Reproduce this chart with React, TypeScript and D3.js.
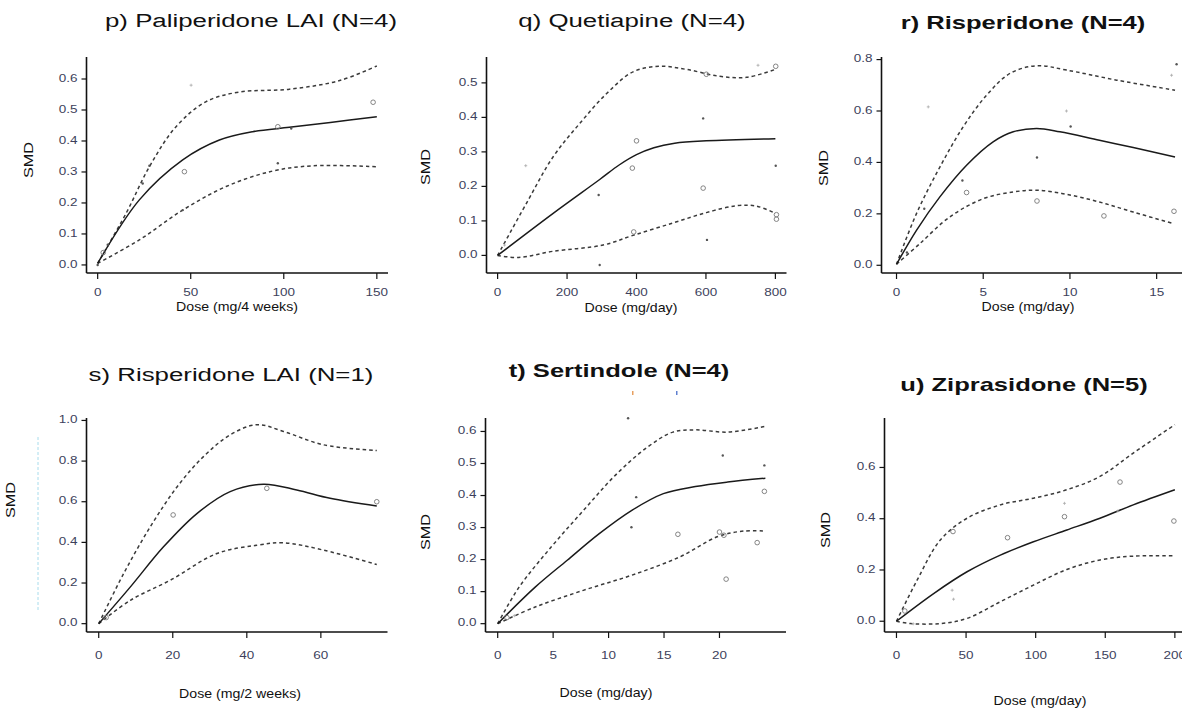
import React from 'react';
import * as d3 from 'd3';

type Pt = [number, number];
type Sc = [number, number, string];

// ---------- p) Paliperidone LAI ----------
const pXTicks = [0, 50, 100, 150];
const pYTicks = [0, 0.1, 0.2, 0.3, 0.4, 0.5, 0.6];
const pMid: Pt[] = [[0, 0.005], [22.4, 0.21], [45.7, 0.339], [65.4, 0.403], [83.3, 0.43], [103, 0.444], [125, 0.46], [150, 0.478]];
const pUp: Pt[] = [[0, 0.005], [15.3, 0.167], [27.8, 0.317], [42.1, 0.446], [58.3, 0.527], [76.2, 0.558], [103, 0.567], [130, 0.595], [150, 0.642]];
const pLo: Pt[] = [[0, 0.005], [22.4, 0.081], [45.7, 0.177], [69, 0.253], [94, 0.303], [115.6, 0.32], [150, 0.317]];
const pPts: Sc[] = [[50.2, 0.58, '+'], [148, 0.525, 'o'], [96.8, 0.446, 'o'], [104, 0.44, '.'], [46.6, 0.301, 'o'], [27.8, 0.32, '.'], [24.2, 0.263, '.'], [96.8, 0.328, '.'], [45.7, 0.177, '.'], [5.4, 0.065, '.'], [3, 0.04, 'o'], [0, 0, '.']];

// ---------- q) Quetiapine ----------
const qXTicks = [0, 200, 400, 600, 800];
const qYTicks = [0, 0.1, 0.2, 0.3, 0.4, 0.5];
const qMid: Pt[] = [[0, 0], [160, 0.122], [294, 0.22], [350, 0.262], [400, 0.292], [450, 0.312], [510, 0.325], [601, 0.332], [800, 0.338]];
const qUp: Pt[] = [[0, 0], [83, 0.151], [160, 0.286], [237, 0.383], [314, 0.469], [390, 0.532], [467, 0.548], [544, 0.539], [640, 0.519], [717, 0.516], [800, 0.539]];
const qLo: Pt[] = [[0, 0], [60, -0.006], [160, 0.012], [304, 0.03], [390, 0.058], [505, 0.094], [601, 0.124], [688, 0.144], [745, 0.143], [800, 0.122]];
const qPts: Sc[] = [[81, 0.26, '+'], [291, 0.175, '.'], [294, -0.028, '.'], [400, 0.332, 'o'], [388, 0.253, 'o'], [392, 0.068, 'o'], [592, 0.397, '.'], [592, 0.195, 'o'], [603, 0.045, '.'], [601, 0.525, 'o'], [750, 0.551, '+'], [801, 0.548, 'o'], [801, 0.26, '.'], [803, 0.118, 'o'], [803, 0.105, 'o'], [20, 0.03, '+']];

// ---------- r) Risperidone ----------
const rXTicks = [0, 5, 10, 15];
const rYTicks = [0, 0.2, 0.4, 0.6, 0.8];
const rMid: Pt[] = [[0, 0.004], [1.15, 0.136], [2.5, 0.266], [4.04, 0.389], [5.57, 0.48], [6.73, 0.519], [8.08, 0.532], [9.42, 0.519], [11.7, 0.486], [13.65, 0.458], [16.06, 0.421]];
const rUp: Pt[] = [[0, 0.004], [1.15, 0.201], [2.5, 0.382], [3.84, 0.538], [5.19, 0.661], [6.54, 0.746], [8.08, 0.776], [9.81, 0.759], [12.7, 0.72], [16.06, 0.681]];
const rLo: Pt[] = [[0, 0.004], [1.34, 0.084], [3.07, 0.188], [5, 0.259], [6.73, 0.285], [8.08, 0.292], [9.81, 0.276], [11.7, 0.246], [13.65, 0.207], [15.96, 0.162]];
const rPts: Sc[] = [[1.83, 0.616, '+'], [4.04, 0.283, 'o'], [3.8, 0.33, '.'], [1.6, 0.22, '.'], [8.1, 0.419, '.'], [8.1, 0.25, 'o'], [9.8, 0.6, '+'], [10.04, 0.54, '.'], [11.96, 0.192, 'o'], [15.86, 0.739, '+'], [16.15, 0.782, '.'], [16, 0.21, 'o'], [0.6, 0.05, '.']];

// ---------- s) Risperidone LAI ----------
const sXTicks = [0, 20, 40, 60];
const sYTicks = [0, 0.2, 0.4, 0.6, 0.8, 1.0];
const sMid: Pt[] = [[0, 0], [8.56, 0.181], [17.5, 0.378], [26.6, 0.543], [35.5, 0.65], [44.5, 0.686], [53.5, 0.658], [62.5, 0.617], [75.1, 0.579]];
const sUp: Pt[] = [[0, 0], [6.75, 0.247], [13.95, 0.477], [21.2, 0.674], [28.3, 0.822], [35.5, 0.929], [42.7, 0.979], [49.9, 0.946], [60.7, 0.88], [75.1, 0.852]];
const sLo: Pt[] = [[0, 0], [8.56, 0.115], [19.35, 0.214], [31.9, 0.345], [42.7, 0.386], [49.9, 0.398], [60.7, 0.362], [75.1, 0.291]];
const sPts: Sc[] = [[20.1, 0.535, 'o'], [45.4, 0.666, 'o'], [75.1, 0.6, 'o'], [2, 0.03, 'o']];

// ---------- t) Sertindole ----------
const tXTicks = [0, 5, 10, 15, 20];
const tYTicks = [0, 0.1, 0.2, 0.3, 0.4, 0.5, 0.6];
const tMid: Pt[] = [[0, 0], [3.38, 0.114], [6.27, 0.198], [9.16, 0.281], [12.06, 0.353], [14.94, 0.406], [17.83, 0.428], [20.73, 0.442], [24.14, 0.454]];
const tUp: Pt[] = [[0, 0], [1.93, 0.114], [4.82, 0.239], [7.72, 0.353], [10.6, 0.463], [13.5, 0.551], [15.8, 0.598], [17.83, 0.605], [20.73, 0.598], [24.14, 0.616]];
const tLo: Pt[] = [[0, 0], [3.38, 0.052], [7.72, 0.104], [12.06, 0.151], [16.4, 0.208], [19.86, 0.272], [22.17, 0.289], [24.14, 0.289]];
const tPts: Sc[] = [[11.76, 0.641, '.'], [12.49, 0.395, '.'], [12.06, 0.301, '.'], [20.3, 0.525, '.'], [24.05, 0.494, '.'], [24.05, 0.413, 'o'], [16.25, 0.279, 'o'], [20, 0.286, 'o'], [20.4, 0.276, 'o'], [20.6, 0.139, 'o'], [23.4, 0.253, 'o'], [0.83, 0.019, 'o'], [1.5, 0.025, '+']];

// ---------- u) Ziprasidone ----------
const uXTicks = [0, 50, 100, 150, 200];
const uYTicks = [0, 0.2, 0.4, 0.6];
const uMid: Pt[] = [[0, 0], [26.7, 0.108], [50.7, 0.193], [74.6, 0.258], [98.4, 0.31], [122.4, 0.356], [146.2, 0.402], [170.1, 0.454], [200, 0.513]];
const uUp: Pt[] = [[0, 0], [14.8, 0.16], [31.5, 0.317], [50.7, 0.402], [74.6, 0.454], [98.4, 0.48], [122.4, 0.513], [146.2, 0.565], [170.1, 0.656], [200, 0.767]];
const uLo: Pt[] = [[0, 0], [10, -0.009], [31.5, -0.009], [50.7, 0.011], [74.6, 0.076], [98.4, 0.141], [122.4, 0.202], [146.2, 0.239], [170.1, 0.254], [200, 0.255]];
const uPts: Sc[] = [[40.6, 0.35, 'o'], [40, 0.121, '+'], [41, 0.086, '+'], [79.8, 0.326, 'o'], [120.7, 0.46, '+'], [120.7, 0.408, 'o'], [160.6, 0.543, 'o'], [159, 0.43, '+'], [199.3, 0.391, 'o'], [6, 0.04, 'o'], [12, -0.01, '+']];

const titles = ['p) Paliperidone LAI (N=4)', 'q) Quetiapine (N=4)', 'r) Risperidone (N=4)', 's) Risperidone LAI (N=1)', 't) Sertindole (N=4)', 'u) Ziprasidone (N=5)'];
const xLabels = ['Dose (mg/4 weeks)', 'Dose (mg/day)', 'Dose (mg/day)', 'Dose (mg/2 weeks)', 'Dose (mg/day)', 'Dose (mg/day)'];

interface Panel {
  title: string; bold: boolean; xLabel: string;
  xTicks: number[]; yTicks: number[];
  xDom: [number, number]; yDom: [number, number];
  box: { l: number; r: number; t: number; b: number };
  mid: Pt[]; up: Pt[]; lo: Pt[]; pts: Sc[];
  titlePos: [number, number]; xlabPos: [number, number]; ylabPos: [number, number];
  tickOff: number;
}

const panels: Panel[] = [
  { title: titles[0], bold: false, xLabel: xLabels[0], xTicks: pXTicks, yTicks: pYTicks, xDom: [-6, 156], yDom: [-0.026, 0.671], box: { l: 86.5, r: 388, t: 57, b: 273 }, mid: pMid, up: pUp, lo: pLo, pts: pPts, titlePos: [251, 27], xlabPos: [237, 311], ylabPos: [30, 160], tickOff: 23 },
  { title: titles[1], bold: false, xLabel: xLabels[1], xTicks: qXTicks, yTicks: qYTicks, xDom: [-32, 832], yDom: [-0.051, 0.575], box: { l: 486.5, r: 786.5, t: 57, b: 273 }, mid: qMid, up: qUp, lo: qLo, pts: qPts, titlePos: [632, 27], xlabPos: [631, 312], ylabPos: [427, 167], tickOff: 23 },
  { title: titles[2], bold: true, xLabel: xLabels[2], xTicks: rXTicks, yTicks: rYTicks, xDom: [-0.866, 17.5], yDom: [-0.03, 0.81], box: { l: 881.5, r: 1200, t: 57, b: 273 }, mid: rMid, up: rUp, lo: rLo, pts: rPts, titlePos: [1023, 29], xlabPos: [1028, 311], ylabPos: [825, 168], tickOff: 23 },
  { title: titles[3], bold: false, xLabel: xLabels[3], xTicks: sXTicks, yTicks: sYTicks, xDom: [-3.3, 78], yDom: [-0.041, 1.012], box: { l: 86.5, r: 387.5, t: 418, b: 632 }, mid: sMid, up: sUp, lo: sLo, pts: sPts, titlePos: [231, 381], xlabPos: [240, 698], ylabPos: [12, 500], tickOff: 27 },
  { title: titles[4], bold: true, xLabel: xLabels[4], xTicks: tXTicks, yTicks: tYTicks, xDom: [-1.1, 26], yDom: [-0.026, 0.642], box: { l: 485.5, r: 786, t: 418, b: 632 }, mid: tMid, up: tUp, lo: tLo, pts: tPts, titlePos: [619, 377], xlabPos: [606, 697], ylabPos: [427, 532], tickOff: 27 },
  { title: titles[5], bold: true, xLabel: xLabels[5], xTicks: uXTicks, yTicks: uYTicks, xDom: [-8.6, 208], yDom: [-0.042, 0.793], box: { l: 884.5, r: 1186, t: 418, b: 632 }, mid: uMid, up: uUp, lo: uLo, pts: uPts, titlePos: [1024, 391], xlabPos: [1040, 705], ylabPos: [827, 530], tickOff: 27 },
];

const FONT = 'Liberation Sans, Arial, Helvetica, sans-serif';
const TICKCOL = '#3d3f5c';

function PanelView({ p }: { p: Panel }) {
  const x = d3.scaleLinear().domain(p.xDom).range([p.box.l, p.box.r]);
  const y = d3.scaleLinear().domain(p.yDom).range([p.box.b, p.box.t]);
  const line = d3.line<Pt>().x(d => x(d[0])).y(d => y(d[1])).curve(d3.curveCatmullRom.alpha(0.5));
  const x0 = p.box.l;
  const y0 = p.box.b;
  const fy = d3.format('.1f');
  return (
    <g>
      <text transform={`translate(${p.titlePos[0]},${p.titlePos[1]}) scale(${p.bold ? 1.38 : 1.36},1)`} textAnchor="middle" fontFamily={FONT} fontSize={p.bold ? 18.5 : 19} fontWeight={p.bold ? 'bold' : 'normal'} fill="#111">{p.title}</text>
      <text transform={`translate(${p.xlabPos[0]},${p.xlabPos[1]}) scale(1.18,1)`} textAnchor="middle" fontFamily={FONT} fontSize={12} fill="#111">{p.xLabel}</text>
      <text transform={`translate(${p.ylabPos[0]},${p.ylabPos[1]}) rotate(-90) scale(1.3,1)`} textAnchor="middle" dominantBaseline="middle" fontFamily={FONT} fontSize={12.5} fill="#111">SMD</text>
      {/* axes */}
      <line x1={x0} x2={x0} y1={p.box.t} y2={y0} stroke="#111" strokeWidth={1.6} />
      <line x1={x0} x2={p.box.r} y1={y0} y2={y0} stroke="#111" strokeWidth={1.6} />
      {p.yTicks.map(v => (
        <g key={'y' + v}>
          <line x1={x0 - 5} x2={x0} y1={y(v)} y2={y(v)} stroke="#111" strokeWidth={1.2} />
          <text transform={`translate(${x0 - 9},${y(v)}) scale(1.35,1)`} textAnchor="end" dominantBaseline="middle" fontFamily={FONT} fontSize={10} fill={TICKCOL}>{fy(v)}</text>
        </g>
      ))}
      {p.xTicks.map(v => (
        <g key={'x' + v}>
          <line x1={x(v)} x2={x(v)} y1={y0} y2={y0 + 6} stroke="#111" strokeWidth={1.2} />
          <text transform={`translate(${x(v)},${y0 + p.tickOff}) scale(1.35,1)`} textAnchor="middle" fontFamily={FONT} fontSize={10} fill={TICKCOL}>{String(v)}</text>
        </g>
      ))}
      {/* curves */}
      <path d={line(p.up) || ''} fill="none" stroke="#3a3a3a" strokeWidth={1.5} strokeDasharray="3.5,3" />
      <path d={line(p.lo) || ''} fill="none" stroke="#3a3a3a" strokeWidth={1.5} strokeDasharray="3.5,3" />
      <path d={line(p.mid) || ''} fill="none" stroke="#1a1a1a" strokeWidth={1.5} />
      {/* points */}
      {p.pts.map((d, i) => {
        const cx = x(d[0]);
        const cy = y(d[1]);
        if (d[2] === 'o') return <circle key={i} cx={cx} cy={cy} r={2.3} fill="none" stroke="#777" strokeWidth={0.9} />;
        if (d[2] === '+') return (
          <g key={i} stroke="#aaa" strokeWidth={0.8}>
            <line x1={cx - 1.5} x2={cx + 1.5} y1={cy} y2={cy} />
            <line x1={cx} x2={cx} y1={cy - 1.5} y2={cy + 1.5} />
          </g>
        );
        return <circle key={i} cx={cx} cy={cy} r={1.2} fill="#555" />;
      })}
    </g>
  );
}

export default function App() {
  return (
    <svg width={1182} height={710} style={{ position: 'absolute', left: 0, top: 0, background: '#fff' }}>
      <rect x={0} y={0} width={1182} height={710} fill="#fff" />
      {panels.map((p, i) => <PanelView key={i} p={p} />)}
      <line x1={38} x2={38} y1={437} y2={610} stroke="#a8dcec" strokeWidth={1} strokeDasharray="3,2" />
      <rect x={632} y={391} width={1.5} height={4} fill="#e8a060" />
      <rect x={676} y={391} width={1.5} height={4} fill="#6080d0" />
    </svg>
  );
}
